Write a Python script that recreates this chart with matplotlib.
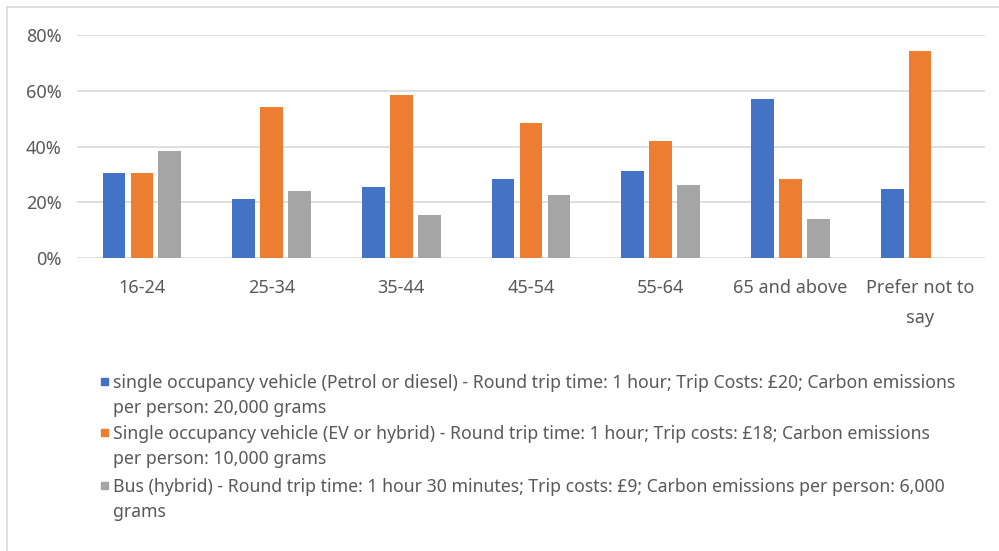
import matplotlib.pyplot as plt
import numpy as np
from matplotlib.patches import Rectangle
from matplotlib.lines import Line2D

plt.rcParams['font.family'] = ['Noto Sans', 'DejaVu Sans']

age_groups = ["16-24", "25-34", "35-44", "45-54", "55-64", "65 and above", "Prefer not to\nsay"]
petrol = [30.4, 21.1, 25.4, 28.3, 31.1, 57.0, 24.7]
ev_hybrid = [30.4, 54.2, 58.4, 48.4, 41.9, 28.3, 74.4]
bus = [38.3, 24.0, 15.3, 22.5, 26.1, 13.9, 0.0]

series_labels = [
    "single occupancy vehicle (Petrol or diesel) - Round trip time: 1 hour; Trip Costs: £20; Carbon emissions\nper person: 20,000 grams",
    "Single occupancy vehicle (EV or hybrid) - Round trip time: 1 hour; Trip costs: £18; Carbon emissions\nper person: 10,000 grams",
    "Bus (hybrid) - Round trip time: 1 hour 30 minutes; Trip costs: £9; Carbon emissions per person: 6,000\ngrams",
]
colors = ["#4472C4", "#ED7D31", "#A5A5A5"]
text_grey = "#595959"

fig = plt.figure(figsize=(9.99, 5.51), dpi=100)
ax = fig.add_axes([77 / 999, 293 / 551, 908 / 999, 223 / 551])

x = np.arange(len(age_groups))
w = 0.175
offset = 0.215
for i, vals in enumerate([petrol, ev_hybrid, bus]):
    ax.bar(x + (i - 1) * offset, vals, width=w, color=colors[i], zorder=3)

ax.set_xlim(-0.5, len(age_groups) - 0.5)
ax.set_ylim(0, 80)
ax.set_yticks([0, 20, 40, 60, 80])
ax.set_yticklabels([f"{v}%" for v in [0, 20, 40, 60, 80]])
ax.set_xticks(x)
ax.set_xticklabels(age_groups, linespacing=1.9)
ax.grid(axis='y', color='#D9D9D9', linewidth=1.2, zorder=0)
for side in ['top', 'right', 'left', 'bottom']:
    ax.spines[side].set_visible(False)
ax.tick_params(axis='both', length=0, colors=text_grey, labelsize=13)
ax.tick_params(axis='y', pad=11)
ax.tick_params(axis='x', pad=15)

# legend drawn by hand so each wrapped label lines up with its swatch
legend_y = [381, 432, 485]
for c, label, yy in zip(colors, series_labels, legend_y):
    fy = 1 - yy / 551
    fig.patches.append(Rectangle((101 / 999, fy - 3.5 / 551), 7 / 999, 7 / 551,
                                 transform=fig.transFigure, color=c))
    fig.text(113 / 999, fy + 7 / 551, label, transform=fig.transFigure, va='top', ha='left',
             fontsize=12.7, color=text_grey, linespacing=1.5)

# chart frame (top and left edges only)
fig.add_artist(Line2D([7 / 999, 1], [1 - 7 / 551, 1 - 7 / 551], transform=fig.transFigure,
                      color='#D9D9D9', linewidth=1.2))
fig.add_artist(Line2D([7 / 999, 7 / 999], [0, 1 - 7 / 551], transform=fig.transFigure,
                      color='#D9D9D9', linewidth=1.2))

fig.savefig("out.png", dpi=100)
